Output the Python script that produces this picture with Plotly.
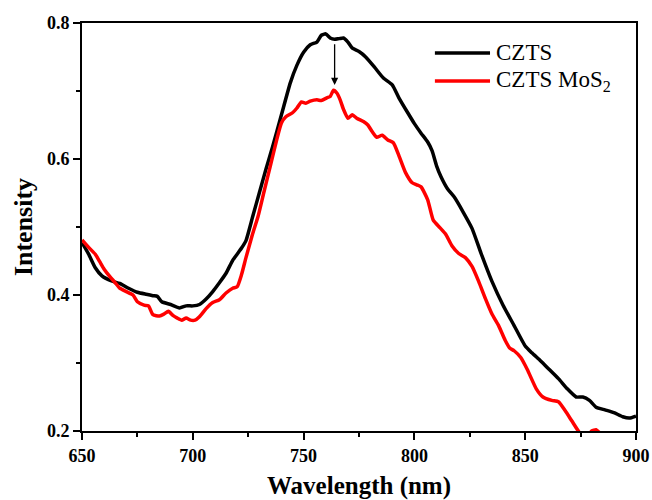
import plotly.graph_objects as go

# ---- data ----
czts_wl = [650, 653, 656, 659, 663, 667, 671, 675, 679, 682, 684, 686, 690, 694, 697, 700,
           703, 706, 709, 712, 715, 718, 720, 722, 724, 727, 730, 733, 736, 740, 744, 747,
           750, 753, 756, 758, 760, 762, 764, 766, 768, 770, 772, 775, 778, 782, 786, 790,
           793, 797, 800, 803, 806, 808, 810, 812, 815, 818, 822, 826, 830, 835, 840, 845,
           850, 853, 857, 861, 865, 869, 873, 876, 879, 882, 886, 890, 894, 897, 900]
czts_int = [0.477, 0.460, 0.440, 0.428, 0.421, 0.417, 0.410, 0.404, 0.401, 0.399, 0.398, 0.390,
            0.386, 0.381, 0.384, 0.384, 0.386, 0.394, 0.405, 0.418, 0.432, 0.451, 0.460, 0.469,
            0.480, 0.515, 0.550, 0.585, 0.618, 0.665, 0.712, 0.738, 0.757, 0.768, 0.772, 0.782,
            0.784, 0.778, 0.776, 0.777, 0.778, 0.772, 0.763, 0.758, 0.750, 0.735, 0.719, 0.709,
            0.690, 0.668, 0.652, 0.638, 0.625, 0.612, 0.590, 0.574, 0.556, 0.544, 0.522, 0.498,
            0.462, 0.420, 0.385, 0.355, 0.325, 0.315, 0.303, 0.290, 0.277, 0.262, 0.250, 0.250,
            0.245, 0.235, 0.231, 0.227, 0.221, 0.219, 0.222]

mos2_wl = [650, 653, 656, 658, 660, 662.6, 665, 667, 670, 673, 675, 678, 680, 682, 685, 687,
           689, 691, 693, 695, 697, 699, 701, 703, 706, 709, 712, 715, 718, 720, 722, 724,
           727, 729.4, 732, 735, 738, 740, 742, 745, 747, 749, 751, 753, 756, 758, 760.5, 762,
           763.5, 765, 766.5, 768, 770, 772, 774, 777, 779, 781, 783, 785.5, 788, 790.5, 793,
           796, 799, 801, 803, 806, 808.5, 811.5, 814, 817, 820, 823, 826, 829, 832, 835, 838,
           841, 843, 845, 848, 851, 855, 858, 862, 865, 868, 871, 874, 877, 880, 882, 884,
           887, 892, 896, 900]
mos2_int = [0.481, 0.470, 0.460, 0.449, 0.438, 0.427, 0.418, 0.410, 0.405, 0.400, 0.390, 0.385,
            0.384, 0.371, 0.369, 0.372, 0.376, 0.370, 0.366, 0.363, 0.366, 0.363, 0.363, 0.368,
            0.380, 0.389, 0.393, 0.403, 0.410, 0.412, 0.430, 0.455, 0.490, 0.515, 0.550, 0.590,
            0.630, 0.653, 0.662, 0.668, 0.675, 0.684, 0.682, 0.685, 0.687, 0.686, 0.690, 0.692,
            0.701, 0.697, 0.687, 0.673, 0.660, 0.665, 0.660, 0.655, 0.650, 0.640, 0.632, 0.635,
            0.628, 0.624, 0.605, 0.580, 0.565, 0.562, 0.559, 0.540, 0.510, 0.499, 0.490, 0.472,
            0.461, 0.455, 0.442, 0.420, 0.395, 0.372, 0.355, 0.333, 0.322, 0.318, 0.308, 0.290,
            0.262, 0.250, 0.245, 0.243, 0.230, 0.215, 0.200, 0.188, 0.200, 0.202, 0.196, 0.185,
            0.175, 0.168, 0.160]

series_names = ["CZTS", "CZTS MoS<sub>2</sub>"]
series_colors = ["#000000", "#ff0000"]

x_ticks = [650, 700, 750, 800, 850, 900]
y_ticks = [0.2, 0.4, 0.6, 0.8]

arrow_x = 764
arrow_from = 0.771
arrow_to = 0.709

FONT = "Liberation Serif"

fig = go.Figure()
for wl, inten, name, col in [(czts_wl, czts_int, series_names[0], series_colors[0]),
                             (mos2_wl, mos2_int, series_names[1], series_colors[1])]:
    fig.add_trace(go.Scatter(x=wl, y=inten, mode="lines", name=name,
                             line=dict(color=col, width=3.5, shape="spline", smoothing=0.5),
                             showlegend=False))

# arrow
fig.add_annotation(x=arrow_x, y=arrow_to, ax=arrow_x, ay=arrow_from, axref="x", ayref="y",
                   xref="x", yref="y", text="", showarrow=True, arrowhead=2, arrowsize=1.1,
                   arrowwidth=1.3, arrowcolor="black")

# manual legend (no frame)
leg_y = [0.9265, 0.858]
for yy, name, col in zip(leg_y, series_names, series_colors):
    fig.add_shape(type="line", xref="paper", yref="paper", x0=0.637, x1=0.7365, y0=yy, y1=yy,
                  line=dict(color=col, width=3.5))
    fig.add_annotation(xref="paper", yref="paper", x=0.744, y=yy, text=name, showarrow=False,
                       xanchor="left", yanchor="middle",
                       font=dict(family=FONT, size=23, color="black"))

axis_common = dict(showline=True, linecolor="black", linewidth=2, mirror=True,
                   ticks="outside", ticklen=7, tickwidth=2, tickcolor="black",
                   showgrid=False, zeroline=False, automargin=False,
                   tickfont=dict(family=FONT, size=18, color="black", weight="bold"))

fig.update_xaxes(range=[650, 900], tickvals=x_ticks,
                 minor=dict(dtick=25, tick0=650, ticks="outside", ticklen=4, tickwidth=1.5,
                            tickcolor="black"),
                 title=dict(text="Wavelength (nm)", standoff=14,
                            font=dict(family=FONT, size=25, color="black", weight="bold")),
                 **axis_common)
fig.update_yaxes(range=[0.2, 0.8], tickvals=y_ticks, tickformat=".1f",
                 minor=dict(dtick=0.1, tick0=0.2, ticks="outside", ticklen=4, tickwidth=1.5,
                            tickcolor="black"),
                 title=dict(text="Intensity", standoff=7,
                            font=dict(family=FONT, size=26, color="black", weight="bold")),
                 **axis_common)

fig.update_layout(width=652, height=500, margin=dict(l=82, r=16, t=23, b=69),
                  plot_bgcolor="white", paper_bgcolor="white",
                  font=dict(family=FONT, color="black"))

fig.write_html("out.html",
               post_script="document.body.style.margin='0';"
                           "document.documentElement.style.overflow='hidden';"
                           "document.body.style.overflow='hidden';")
